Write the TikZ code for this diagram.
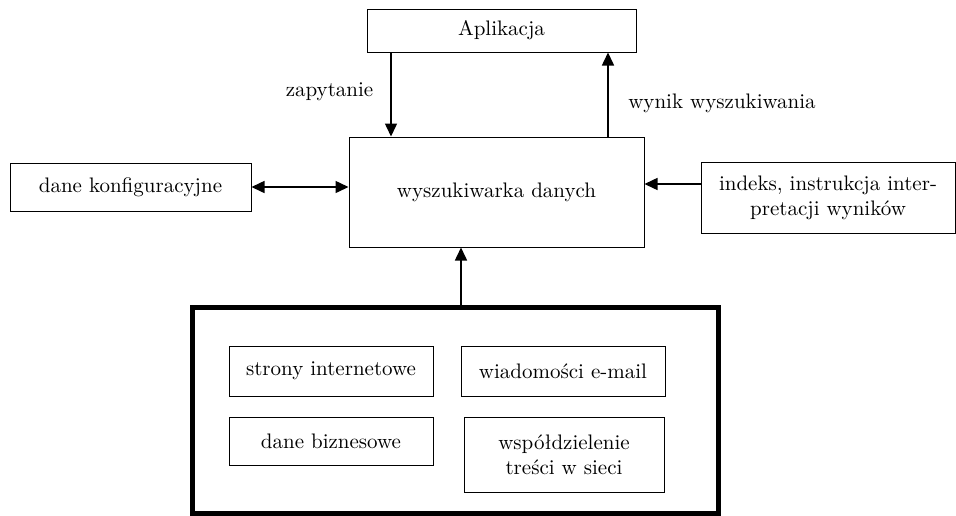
\documentclass[tikz,border=0pt]{standalone}
\usepackage{tikz}
\usetikzlibrary{arrows.meta, positioning, calc}

\tikzset{
  box/.style={draw, line width=0.5pt, align=center, inner sep=2pt,
    font=\fontsize{10.5}{12.5}\selectfont},
  frame/.style={draw, line width=2.5pt},
  flow/.style={line width=0.75pt, -{Triangle[width=6pt,length=6.5pt]}},
  lbl/.style={font=\fontsize{10.5}{12.5}\selectfont, inner sep=0pt}
}

\begin{document}
\begin{tikzpicture}[x=0.5pt, y=-0.5pt]
                \useasboundingbox (0,0) rectangle (956,515);

                % Application and search engine
                \node[box, minimum width=134.5pt, minimum height=21.5pt] (app) at (501.5,30.5) {Aplikacja};
                \node[box, minimum width=147.5pt, minimum height=55pt] (engine) at (496.5,192) {wyszukiwarka danych};

                % Side inputs
                \node[box, minimum width=120.5pt, minimum height=24pt] (config) at (130.5,187) {dane konfiguracyjne};
                \node[box, minimum width=127pt, minimum height=35.5pt] (index) at (828,197.5) {indeks, instrukcja inter-\\pretacji wyników};

                % Data sources
                \node[frame, minimum width=263pt, minimum height=103pt] (sources) at (455,410) {};
                \node[box, minimum width=102pt, minimum height=25pt] (web) at (331,371) {strony internetowe};
                \node[box, minimum width=102pt, minimum height=25pt] (mail) at (563,371) {wiadomości e-mail};
                \node[box, minimum width=102pt, minimum height=24pt] (biz) at (331,441) {dane biznesowe};
                \node[box, minimum width=100pt, minimum height=37.5pt] (share) at (564,454.5) {współdzielenie\\treści w sieci};

                % Connectors
                \coordinate (qx) at (391,0);
                \coordinate (rx) at (608,0);
                \coordinate (iy) at (0,184);
                \coordinate (sx) at (461,0);
                \draw[flow] (app.south -| qx) -- (engine.north -| qx);
                \draw[flow] (engine.north -| rx) -- (app.south -| rx);
                \draw[flow, {Triangle[width=6pt,length=6.5pt]}-{Triangle[width=6pt,length=6.5pt]}] (config.east) -- (config.east -| engine.west);
                \draw[flow] (index.west |- iy) -- (engine.east |- iy);
                \draw[flow] (sources.north -| sx) -- (engine.south -| sx);

                % Labels
                \node[lbl] (query) at (329.5,92) {zapytanie};
                \node[lbl] (result) at (722,103) {wynik wyszukiwania};
            \end{tikzpicture}
\end{document}
